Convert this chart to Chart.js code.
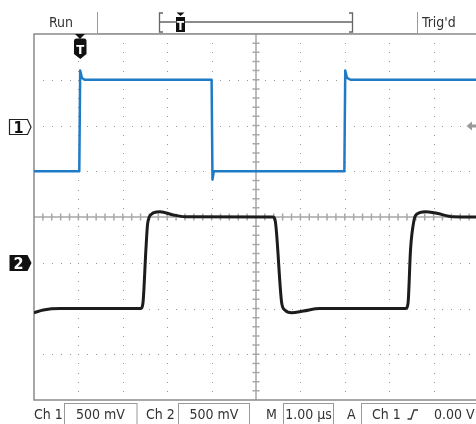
<!DOCTYPE html>
<html>
<head>
<meta charset="utf-8">
<script src="https://cdn.jsdelivr.net/npm/chart.js@4.4.0/dist/chart.umd.min.js"></script>
<style>
html,body{margin:0;padding:0;background:#fff;overflow:hidden;width:476px;height:424px;}
#wrap{position:relative;width:476px;height:424px;overflow:hidden;}
#scope{position:absolute;left:0;top:0;}
#overlay{position:absolute;left:0;top:0;}
#overlay text{font-family:'Liberation Sans Narrow','DejaVu Sans Condensed','Arial Narrow',sans-serif;font-size:14px;fill:#333;}
</style>
</head>
<body>
<div id="wrap">
<canvas id="scope" width="478" height="424"></canvas>
<svg id="overlay" width="476" height="424">
  <!-- top status bar -->
  <text x="49" y="26.5">Run</text>
  <path d="M97.5,12 V33.5 H417.5 V12" fill="none" stroke="#999" stroke-width="1"/>
  <text x="422" y="26.5">Trig'd</text>
  <path d="M163,13 H159.5 V32 H163 M349,13 H352.5 V32 H349 M159.5,22 H352.5" fill="none" stroke="#666" stroke-width="1.3"/>
  <path d="M176.5,12.5 H184.5 L180.5,16 Z" fill="#111"/>
  <rect x="176" y="17" width="9" height="15" fill="#111"/>
  <text x="180.5" y="30" text-anchor="middle" style="fill:#fff;font-weight:bold;font-size:12px">T</text>

  <!-- trigger position marker -->
  <path d="M75,34 H85 L80,39 Z" fill="#111"/>
  <path d="M74,41 Q74,38.5 76.5,38.5 H84 Q86.5,38.5 86.5,41 V54 L80.3,59 L74,54 Z" fill="#111"/>
  <text x="80.3" y="54" text-anchor="middle" style="fill:#fff;font-weight:bold;font-size:13px">T</text>

  <!-- channel ground markers -->
  <path d="M9.5,119.5 H27.5 L31,127 L27.5,134.5 H9.5 Z" fill="#fff" stroke="#222" stroke-width="1.2"/>
  <text x="18.5" y="133" text-anchor="middle" style="fill:#111;font-weight:bold;font-size:16px">1</text>
  <path d="M9.5,255 H27.5 L31.5,263 L27.5,271 H9.5 Z" fill="#111"/>
  <text x="18.5" y="269" text-anchor="middle" style="fill:#fff;font-weight:bold;font-size:16px">2</text>

  <!-- trigger level arrow -->
  <path d="M466.5,126 L472,121.5 V124.6 H476 V127.4 H472 V130.5 Z" fill="#999"/>

  <!-- bottom readout -->
  <text x="34" y="419">Ch 1</text>
  <rect x="64.5" y="403.5" width="72.5" height="26" fill="none" stroke="#999"/>
  <text x="100.5" y="419" text-anchor="middle">500 mV</text>
  <text x="146" y="419">Ch 2</text>
  <rect x="178.5" y="403.5" width="71" height="26" fill="none" stroke="#999"/>
  <text x="214" y="419" text-anchor="middle">500 mV</text>
  <text x="266" y="419">M</text>
  <rect x="283.5" y="403.5" width="50" height="26" fill="none" stroke="#999"/>
  <text x="308.5" y="419" text-anchor="middle">1.00 µs</text>
  <text x="347" y="419">A</text>
  <rect x="361.5" y="403.5" width="130" height="26" fill="none" stroke="#999"/>
  <text x="372" y="419">Ch 1</text>
  <path d="M407.5,419 H411 L414,410 H418" fill="none" stroke="#333" stroke-width="1.3"/>
  <text x="434" y="419">0.00 V</text>
</svg>
</div>
<script>
// horizontal: 1 us/div, 10 divisions, trigger one division in from the left
const timeMin = -1;
const timeMax = 9;

// vertical: 8 divisions, both channels 500 mV/div
const voltsPerDiv = 0.5;
const ch1GroundDiv = 2;   // ch1 ground marker two divisions above centre
const ch2GroundDiv = -1;  // ch2 ground marker one division below centre

// Ch 1 (blue) square wave, us / V
const ch1Time  = [-1, 0.02, 0.04, 0.08, 0.14, 3.0, 3.02, 3.05, 5.99, 6.01, 6.05, 6.13, 9];
const ch1Volts = [-0.5, -0.5, 0.6, 0.52, 0.5, 0.5, -0.59, -0.5, -0.5, 0.6, 0.52, 0.5, 0.5];

// Ch 2 (black) filtered response, us / V
const ch2Time  = [-1, -0.79, -0.41, 1.40, 1.43, 1.46, 1.52, 1.56, 1.65, 1.76, 1.84, 2.14, 2.40,
                  4.38, 4.43, 4.58, 4.65, 4.80, 5.07, 5.44,
                  7.37, 7.40, 7.43, 7.48, 7.56, 7.63, 7.81, 8.07, 8.44, 9];
const ch2Volts = [-0.546, -0.516, -0.5, -0.5, -0.49, -0.41, 0.14, 0.43, 0.533, 0.555, 0.558, 0.522, 0.503,
                  0.5, 0.467, -0.443, -0.516, -0.546, -0.527, -0.5,
                  -0.5, -0.49, -0.41, 0.14, 0.467, 0.533, 0.558, 0.54, 0.503, 0.5];

function points(t,v){ return t.map((x,i)=>({x:x,y:v[i]})); }

const graticule = {
    id:'graticule',
    beforeDatasetsDraw(chart){
        const ctx = chart.ctx, a = chart.chartArea;
        const dx = (a.right-a.left)/10, dy = (a.bottom-a.top)/8;
        const cx = a.left+5*dx, cy = a.top+4*dy;
        ctx.save();
        // dotted grid lines
        ctx.fillStyle = '#999';
        for(let i=1;i<10;i++){
            if(i===5) continue;
            const x = Math.round(a.left+i*dx);
            for(let k=1;k<40;k++) ctx.fillRect(x, Math.round(a.top+k*dy/5), 1, 1);
        }
        for(let j=1;j<8;j++){
            if(j===4) continue;
            const y = Math.round(a.top+j*dy);
            for(let k=1;k<50;k++) ctx.fillRect(Math.round(a.left+k*dx/5), y, 1, 1);
        }
        // centre axes with minor ticks
        ctx.strokeStyle = '#a8a8a8';
        ctx.lineWidth = 1.5;
        ctx.beginPath();
        ctx.moveTo(cx, a.top); ctx.lineTo(cx, a.bottom);
        ctx.moveTo(a.left, cy); ctx.lineTo(a.right, cy);
        for(let k=1;k<50;k++){ const x=a.left+k*dx/5; ctx.moveTo(x, cy-3.5); ctx.lineTo(x, cy+3.5); }
        for(let k=1;k<40;k++){ const y=a.top+k*dy/5; ctx.moveTo(cx-3.5, y); ctx.lineTo(cx+3.5, y); }
        ctx.stroke();
        // frame
        ctx.strokeStyle = '#8a8a8a';
        ctx.beginPath();
        ctx.moveTo(a.right, a.top); ctx.lineTo(a.left, a.top); ctx.lineTo(a.left, a.bottom); ctx.lineTo(a.right, a.bottom);
        ctx.stroke();
        ctx.restore();
    }
};

new Chart(document.getElementById('scope'), {
    type:'line',
    data:{datasets:[
        {label:'Ch 1', data:points(ch1Time,ch1Volts), yAxisID:'y1', borderColor:'#1f7bc5', borderWidth:2.5,
         pointRadius:0, tension:0, borderJoinStyle:'round'},
        {label:'Ch 2', data:points(ch2Time,ch2Volts), yAxisID:'y2', borderColor:'#1c1c1c', borderWidth:3,
         pointRadius:0, cubicInterpolationMode:'monotone'}
    ]},
    options:{
        responsive:false,
        animation:false,
        layout:{padding:{left:34, top:34, right:0, bottom:24}},
        plugins:{legend:{display:false}, tooltip:{enabled:false}},
        scales:{
            x:{type:'linear', min:timeMin, max:timeMax, display:false},
            y1:{type:'linear', min:(-4-ch1GroundDiv)*voltsPerDiv, max:(4-ch1GroundDiv)*voltsPerDiv, display:false},
            y2:{type:'linear', min:(-4-ch2GroundDiv)*voltsPerDiv, max:(4-ch2GroundDiv)*voltsPerDiv, display:false}
        }
    },
    plugins:[graticule]
});
</script>
</body>
</html>
